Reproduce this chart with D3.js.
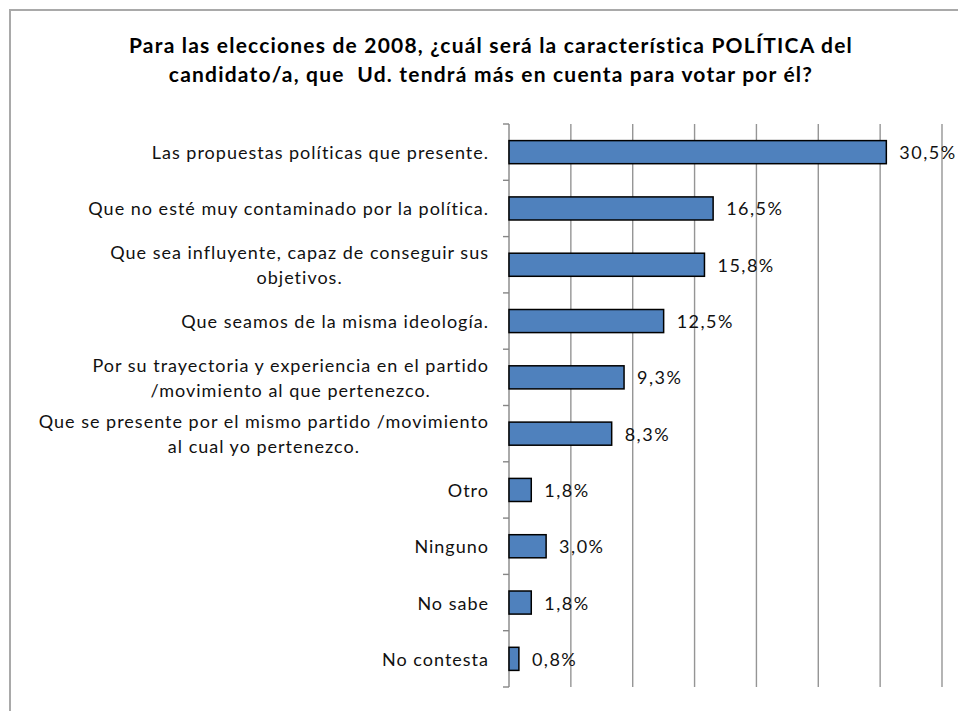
<!DOCTYPE html>
<html>
<head>
<meta charset="utf-8">
<script src="https://cdn.jsdelivr.net/npm/d3@7"></script>
<style>
  body { margin: 0; background: #fff; }
  svg { display: block; font-family: Lato, "Open Sans", sans-serif; }
  text { white-space: pre; }
</style>
</head>
<body>
<svg width="958" height="711"></svg>
<script>
"use strict";

// Chart data
const titleLines = [
  "Para las elecciones de 2008, ¿cuál será la característica POLÍTICA del",
  "candidato/a, que  Ud. tendrá más en cuenta para votar por él?"
];
const categories = [
  ["Las propuestas políticas que presente."],
  ["Que no esté muy contaminado por la política."],
  ["Que sea influyente, capaz de conseguir sus", "objetivos."],
  ["Que seamos de la misma ideología."],
  ["Por su trayectoria y experiencia en el partido", "/movimiento al que pertenezco."],
  ["Que se presente por el mismo partido /movimiento", "al cual yo pertenezco."],
  ["Otro"],
  ["Ninguno"],
  ["No sabe"],
  ["No contesta"]
];
const values = [30.5, 16.5, 15.8, 12.5, 9.3, 8.3, 1.8, 3.0, 1.8, 0.8];
const gridTicks = [5, 10, 15, 20, 25, 30, 35];

const svg = d3.select("svg");
const keys = categories.map((c, i) => i);

const x = d3.scaleLinear().domain([0, 35]).range([509, 942]);
const y = d3.scaleBand().domain(keys).range([124, 687]);
const barH = y.bandwidth() * 0.41;

const esLocale = d3.formatLocale({ decimal: ",", thousands: ".", grouping: [3], currency: ["", "€"] });
const fmt = v => esLocale.format(".1f")(v) + "%";

// outer frame
svg.append("path")
  .attr("d", "M10,711 V10 H958")
  .attr("fill", "none")
  .attr("stroke", "#a9a9a9")
  .attr("stroke-width", 2);

// title
svg.append("g").selectAll("text")
  .data(titleLines)
  .enter().append("text")
  .attr("x", 491)
  .attr("y", (d, i) => 53 + i * 29)
  .attr("text-anchor", "middle")
  .attr("font-size", 21)
  .attr("font-weight", "bold")
  .attr("letter-spacing", 1.2)
  .attr("fill", "#000")
  .text(d => d);

// gridlines
svg.append("g").selectAll("line")
  .data(gridTicks)
  .enter().append("line")
  .attr("x1", d => x(d)).attr("x2", d => x(d))
  .attr("y1", 124).attr("y2", 687)
  .attr("stroke", "#959595")
  .attr("stroke-width", 1.4);

// category axis
const tickYs = keys.map(k => y(k)).concat([y.range()[1]]);
const axisG = svg.append("g");
axisG.append("line")
  .attr("x1", x(0)).attr("x2", x(0))
  .attr("y1", 124).attr("y2", 687)
  .attr("stroke", "#868686").attr("stroke-width", 1.4);
axisG.selectAll("line.tick")
  .data(tickYs)
  .enter().append("line")
  .attr("class", "tick")
  .attr("x1", x(0) - 6).attr("x2", x(0))
  .attr("y1", d => d).attr("y2", d => d)
  .attr("stroke", "#868686").attr("stroke-width", 1.4);

// category labels (block right aligned, lines centred within block)
const labelG = svg.append("g")
  .attr("font-size", 18)
  .attr("letter-spacing", 1)
  .attr("fill", "#111");
categories.forEach((lines, i) => {
  const cy = y(i) + y.bandwidth() / 2;
  const g = labelG.append("g");
  const texts = g.selectAll("text")
    .data(lines)
    .enter().append("text")
    .attr("y", (d, j) => cy + 7 + (j - (lines.length - 1) / 2) * 25)
    .attr("text-anchor", "middle")
    .text(d => d);
  let w = 0;
  texts.each(function() { w = Math.max(w, this.getComputedTextLength()); });
  texts.attr("x", 489 - w / 2);
});

// bars
svg.append("g").selectAll("rect")
  .data(values)
  .enter().append("rect")
  .attr("x", x(0))
  .attr("y", (d, i) => y(i) + (y.bandwidth() - barH) / 2)
  .attr("width", d => x(d) - x(0))
  .attr("height", barH)
  .attr("fill", "#4f81bd")
  .attr("stroke", "#000")
  .attr("stroke-width", 1.5);

// value labels
svg.append("g").selectAll("text")
  .data(values)
  .enter().append("text")
  .attr("x", d => x(d) + 13)
  .attr("y", (d, i) => y(i) + y.bandwidth() / 2 + 7)
  .attr("font-size", 18)
  .attr("letter-spacing", 1.5)
  .attr("fill", "#111")
  .text(d => fmt(d));
</script>
</body>
</html>
